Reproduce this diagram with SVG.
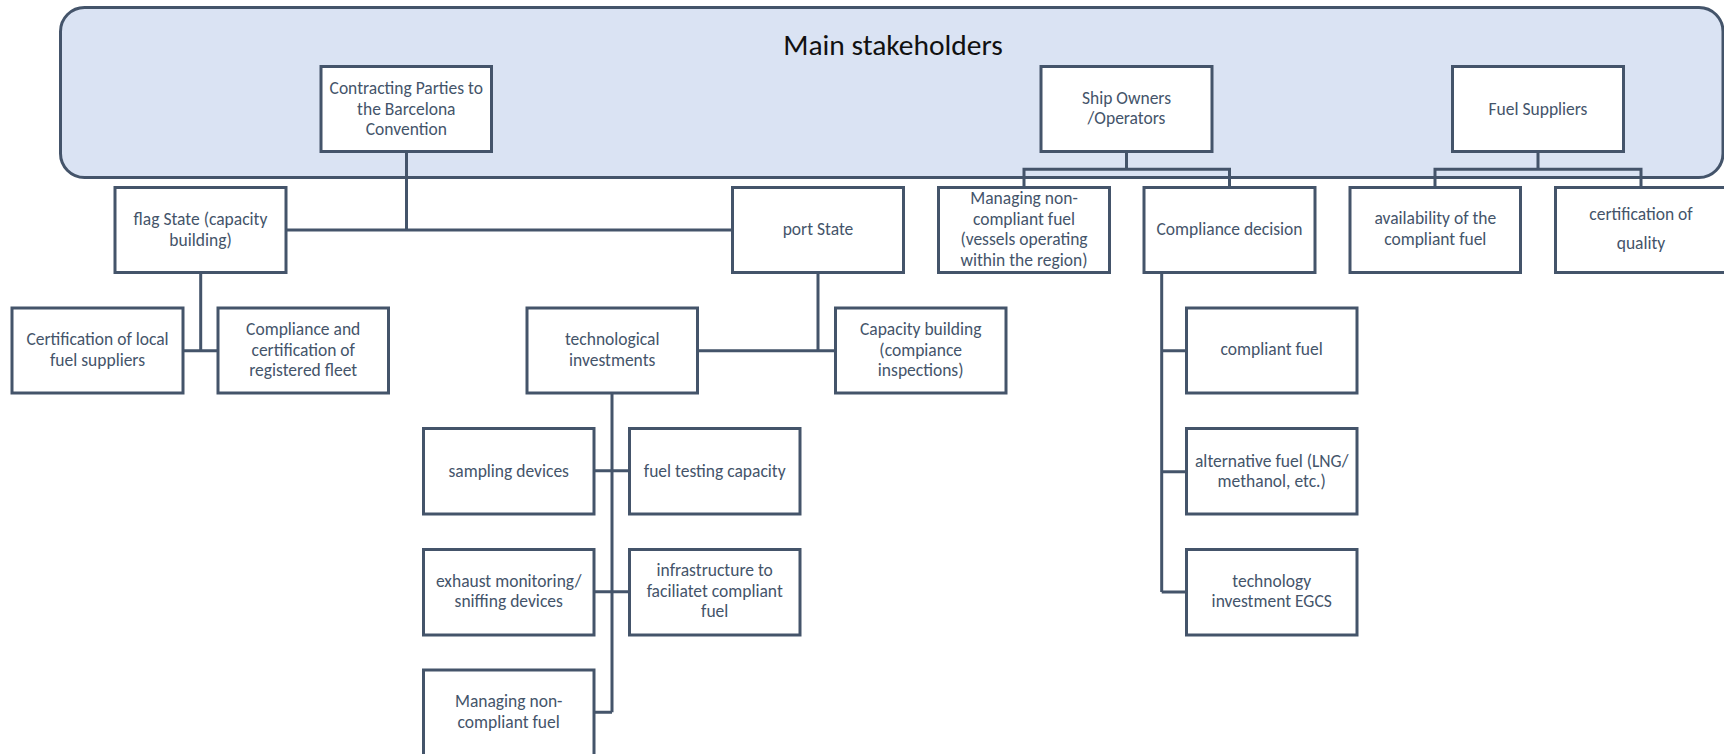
<svg xmlns="http://www.w3.org/2000/svg" width="1724" height="754" viewBox="0 0 1724 754">
<style>
.bg{fill:#ffffff}
.group{fill:#DAE3F3;stroke:#44546A;stroke-width:3}
.box{fill:#ffffff;stroke:#44546A;stroke-width:3}
.conn{fill:none;stroke:#44546A;stroke-width:3}
.t{font-family:Carlito,Lato,"Liberation Sans",sans-serif;font-size:17.5px;fill:#44546A;text-anchor:middle}
.title{font-family:Carlito,Lato,"Liberation Sans",sans-serif;font-size:29.5px;fill:#111111;text-anchor:middle}
</style>
<rect class="bg" x="0" y="0" width="1724" height="754"/>
<g id="main-stakeholders">
<rect class="group" x="60.5" y="7.5" width="1662.5" height="170" rx="24" ry="24"/>
<text class="title" x="893" y="55">Main stakeholders</text>
</g>
<g id="connectors">
<path class="conn" d="M406.5,152 V230 M286,230 H732.5"/>
<path class="conn" d="M200.7,273 V350.7 M183,350.7 H218"/>
<path class="conn" d="M818,273 V350.7 M697.5,350.7 H835.5"/>
<path class="conn" d="M612,393.3 V712.3 M594,470.7 H630 M594,591.7 H630 M594,712.3 H612"/>
<path class="conn" d="M1126.5,152 V169.3 M1024,187.3 V169.3 H1229.5 V187.3"/>
<path class="conn" d="M1161.7,273 V592 M1161.7,350.7 H1186.5 M1161.7,471.7 H1186.5 M1161.7,592 H1186.5"/>
<path class="conn" d="M1538,152 V169.3 M1435,187.3 V169.3 H1641 V187.3"/>
</g>
<g id="contracting-parties">
<rect class="box" x="321" y="66.5" width="170.5" height="85"/>
<text class="t" x="406.3" y="94.3">Contracting Parties to</text>
<text class="t" x="406.3" y="114.5">the Barcelona</text>
<text class="t" x="406.3" y="135">Convention</text>
</g>
<g id="ship-owners">
<rect class="box" x="1041" y="66.5" width="171" height="85"/>
<text class="t" x="1126.5" y="103.5">Ship Owners</text>
<text class="t" x="1126.5" y="124">/Operators</text>
</g>
<g id="fuel-suppliers">
<rect class="box" x="1452.5" y="66.5" width="171" height="85"/>
<text class="t" x="1538" y="115">Fuel Suppliers</text>
</g>
<g id="flag-state">
<rect class="box" x="115" y="187.5" width="171" height="85"/>
<text class="t" x="200.5" y="225">flag State (capacity</text>
<text class="t" x="200.5" y="245.7">building)</text>
</g>
<g id="port-state">
<rect class="box" x="732.5" y="187.5" width="171" height="85"/>
<text class="t" x="818" y="235">port State</text>
</g>
<g id="managing-vessels">
<rect class="box" x="938.5" y="187.5" width="171" height="85"/>
<text class="t" x="1024" y="204">Managing non-</text>
<text class="t" x="1024" y="224.5">compliant fuel</text>
<text class="t" x="1024" y="245">(vessels operating</text>
<text class="t" x="1024" y="265.5">within the region)</text>
</g>
<g id="compliance-decision">
<rect class="box" x="1144" y="187.5" width="171" height="85"/>
<text class="t" x="1229.5" y="235">Compliance decision</text>
</g>
<g id="availability">
<rect class="box" x="1350" y="187.5" width="170.5" height="85"/>
<text class="t" x="1435.3" y="224">availability of the</text>
<text class="t" x="1435.3" y="245">compliant fuel</text>
</g>
<g id="certification-quality">
<rect class="box" x="1555.5" y="187.5" width="171" height="85"/>
<text class="t" x="1641" y="220">certification of</text>
<text class="t" x="1641" y="249.3">quality</text>
</g>
<g id="certification-local">
<rect class="box" x="12" y="308" width="171" height="85"/>
<text class="t" x="97.5" y="345">Certification of local</text>
<text class="t" x="97.5" y="366">fuel suppliers</text>
</g>
<g id="compliance-certification">
<rect class="box" x="218" y="308" width="170.5" height="85"/>
<text class="t" x="303.2" y="335">Compliance and</text>
<text class="t" x="303.2" y="355.5">certification of</text>
<text class="t" x="303.2" y="376">registered fleet</text>
</g>
<g id="technological-investments">
<rect class="box" x="527" y="308" width="170.5" height="85"/>
<text class="t" x="612.2" y="345">technological</text>
<text class="t" x="612.2" y="366">investments</text>
</g>
<g id="capacity-building">
<rect class="box" x="835.5" y="308" width="170.5" height="85"/>
<text class="t" x="920.7" y="335">Capacity building</text>
<text class="t" x="920.7" y="355.5">(compiance</text>
<text class="t" x="920.7" y="376">inspections)</text>
</g>
<g id="compliant-fuel">
<rect class="box" x="1186.5" y="308" width="170.5" height="85"/>
<text class="t" x="1271.7" y="355">compliant fuel</text>
</g>
<g id="sampling-devices">
<rect class="box" x="423.5" y="428.5" width="170.5" height="85.5"/>
<text class="t" x="508.7" y="476.7">sampling devices</text>
</g>
<g id="fuel-testing">
<rect class="box" x="629.5" y="428.5" width="170.5" height="85.5"/>
<text class="t" x="714.7" y="476.7">fuel testing capacity</text>
</g>
<g id="exhaust-monitoring">
<rect class="box" x="423.5" y="549.5" width="170.5" height="85.5"/>
<text class="t" x="508.7" y="586.7">exhaust monitoring/</text>
<text class="t" x="508.7" y="607.3">sniffing devices</text>
</g>
<g id="infrastructure">
<rect class="box" x="629.5" y="549.5" width="170.5" height="85.5"/>
<text class="t" x="714.7" y="576">infrastructure to</text>
<text class="t" x="714.7" y="596.7">faciliatet compliant</text>
<text class="t" x="714.7" y="617.3">fuel</text>
</g>
<g id="managing-noncompliant">
<rect class="box" x="423.5" y="670" width="170.5" height="86"/>
<text class="t" x="508.7" y="707.3">Managing non-</text>
<text class="t" x="508.7" y="728.3">compliant fuel</text>
</g>
<g id="alternative-fuel">
<rect class="box" x="1186.5" y="428.5" width="170.5" height="85.5"/>
<text class="t" x="1271.7" y="466.7">alternative fuel (LNG/</text>
<text class="t" x="1271.7" y="486.7">methanol, etc.)</text>
</g>
<g id="technology-investment">
<rect class="box" x="1186.5" y="549.5" width="170.5" height="85.5"/>
<text class="t" x="1271.7" y="586.7">technology</text>
<text class="t" x="1271.7" y="607.3">investment EGCS</text>
</g>
</svg>
